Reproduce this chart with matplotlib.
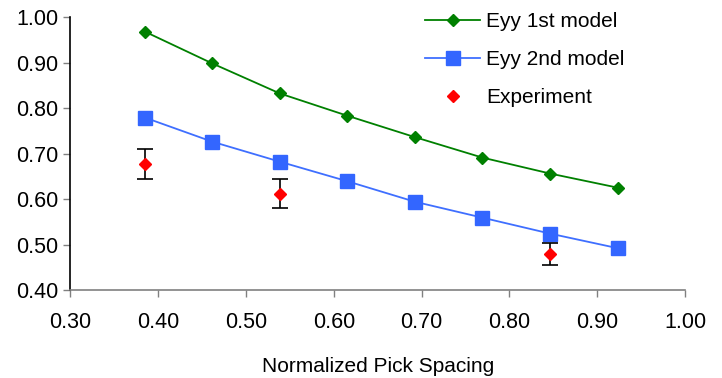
import matplotlib.pyplot as plt
from matplotlib.lines import Line2D

plt.rcParams['font.family'] = ['Liberation Sans', 'DejaVu Sans']

# normalized pick spacing (k/13)
x_model = [0.3846, 0.4615, 0.5385, 0.6154, 0.6923, 0.7692, 0.8462, 0.9231]
eyy_1st = [0.968, 0.898, 0.832, 0.783, 0.736, 0.691, 0.656, 0.625]
eyy_2nd = [0.779, 0.726, 0.682, 0.639, 0.594, 0.559, 0.524, 0.492]

x_exp = [0.3846, 0.5385, 0.8462]
y_exp = [0.678, 0.612, 0.479]
err_exp = [0.033, 0.031, 0.024]

xticks = [0.30, 0.40, 0.50, 0.60, 0.70, 0.80, 0.90, 1.00]
yticks = [0.40, 0.50, 0.60, 0.70, 0.80, 0.90, 1.00]

fig = plt.figure(figsize=(7.22, 3.78), dpi=100)
ax = fig.add_axes([0.0976, 0.2328, 0.8512, 0.7222])

l1, = ax.plot(x_model, eyy_1st, color='#008000', lw=1.3, marker='D', ms=6.4)
l2, = ax.plot(x_model, eyy_2nd, color='#3f6fff', lw=1.3, marker='s', ms=9.8,
              mfc='#3366ff', mec='#3366ff')
ax.errorbar(x_exp, y_exp, yerr=err_exp, fmt='D', color='#ff0000', ms=6.4,
            ecolor='black', elinewidth=1.2, capsize=6, capthick=1.2, zorder=3)

ax.set_xlim(0.30, 1.00)
ax.set_ylim(0.40, 1.00)
ax.set_xticks(xticks)
ax.set_yticks(yticks)
ax.set_xticklabels(['%.2f' % t for t in xticks])
ax.set_yticklabels(['%.2f' % t for t in yticks])
ax.tick_params(axis='both', direction='out', length=5, width=1,
               color='#808080', labelsize=15.5, pad=3.5)
ax.tick_params(axis='x', pad=11)

for s in ['top', 'right']:
    ax.spines[s].set_visible(False)
ax.spines['left'].set_color('black')
ax.spines['bottom'].set_color('#808080')
ax.spines['left'].set_linewidth(1.2)
ax.spines['bottom'].set_linewidth(1.2)

ax.set_xlabel('Normalized Pick Spacing', fontsize=15, labelpad=17)

exp_handle = Line2D([], [], ls='none', marker='D', color='#ff0000', ms=6.4)
fig.legend([l1, l2, exp_handle], ['Eyy 1st model', 'Eyy 2nd model', 'Experiment'],
           loc='upper left', bbox_to_anchor=(425 / 722, 1 - 12 / 378),
           frameon=False, fontsize=15, handlelength=2.64, labelspacing=0.92,
           handletextpad=0.3, borderpad=0, borderaxespad=0)

fig.savefig('out.png', dpi=100)
